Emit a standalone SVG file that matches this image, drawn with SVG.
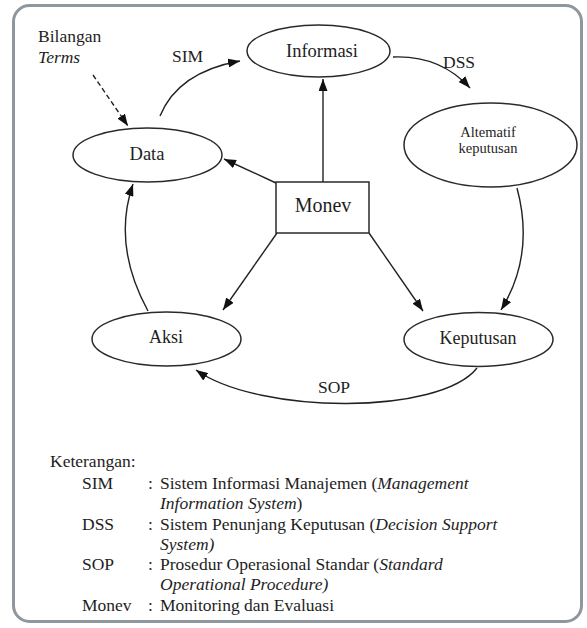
<svg xmlns="http://www.w3.org/2000/svg" width="587" height="628" viewBox="0 0 587 628">
<defs>
<marker id="ah" markerUnits="userSpaceOnUse" markerWidth="12" markerHeight="9" refX="12" refY="4.5" orient="auto">
<path d="M0,0 L12,4.5 L0,9 z" fill="#111"/>
</marker>
</defs>
<rect x="13.5" y="5.5" width="568" height="616" rx="16" fill="#fff" stroke="#8f979e" stroke-width="3"/>
<g id="connectors" fill="none" stroke="#222" stroke-width="1.4">
<path d="M323,182 L323,79" marker-end="url(#ah)"/>
<path d="M276,183 L224,159" marker-end="url(#ah)"/>
<path d="M277,233 L223,310" marker-end="url(#ah)"/>
<path d="M369,233 L423,311" marker-end="url(#ah)"/>
<path d="M160,116 Q178,72 240,61" marker-end="url(#ah)"/>
<path d="M393,57 Q440,55 470,88" marker-end="url(#ah)"/>
<path d="M517,188 Q535,255 501,310" marker-end="url(#ah)"/>
<path d="M477,368 C440,415 260,415 196,370" marker-end="url(#ah)"/>
<path d="M148,311 Q112,245 133,184" marker-end="url(#ah)"/>
<path d="M93,75 L128,126" stroke-dasharray="5,3" marker-end="url(#ah)"/>
</g>
<g id="connector-labels" fill="#1e1e1e" font-size="17.5">
<text font-family="'Liberation Serif'" x="172" y="62">SIM</text>
<text font-family="'Liberation Serif'" x="443" y="68">DSS</text>
<text font-family="'Liberation Serif'" x="318" y="393">SOP</text>
</g>
<g id="bilangan" fill="#1e1e1e" font-size="17.5">
<text font-family="'Liberation Serif'" x="38" y="42">Bilangan</text>
<text font-family="'Liberation Serif'" font-style="italic" x="38" y="63">Terms</text>
</g>
<g id="informasi">
<ellipse cx="318.5" cy="51" rx="71.5" ry="26" fill="#fff" stroke="#2a2a2a" stroke-width="1.5"/>
<text font-family="'Liberation Serif'" fill="#1e1e1e" x="322" y="57" font-size="18.5" text-anchor="middle">Informasi</text>
</g>
<g id="data">
<ellipse cx="147.5" cy="155" rx="74.5" ry="27" fill="#fff" stroke="#2a2a2a" stroke-width="1.5"/>
<text font-family="'Liberation Serif'" fill="#1e1e1e" x="147" y="160" font-size="18.5" text-anchor="middle">Data</text>
</g>
<g id="alternatif">
<ellipse cx="490.5" cy="145" rx="86.5" ry="42" fill="#fff" stroke="#2a2a2a" stroke-width="1.5"/>
<text font-family="'Liberation Serif'" fill="#1e1e1e" x="488" y="137" font-size="14.5" text-anchor="middle">Altematif</text>
<text font-family="'Liberation Serif'" fill="#1e1e1e" x="488" y="153" font-size="14.5" text-anchor="middle">keputusan</text>
</g>
<g id="monev">
<rect x="276" y="182" width="93" height="51" fill="#fff" stroke="#2a2a2a" stroke-width="1.5"/>
<text font-family="'Liberation Serif'" fill="#1e1e1e" x="323" y="212" font-size="20" text-anchor="middle">Monev</text>
</g>
<g id="aksi">
<ellipse cx="166.5" cy="339" rx="74.5" ry="27" fill="#fff" stroke="#2a2a2a" stroke-width="1.5"/>
<text font-family="'Liberation Serif'" fill="#1e1e1e" x="166" y="343" font-size="18" text-anchor="middle">Aksi</text>
</g>
<g id="keputusan">
<ellipse cx="478.5" cy="339.5" rx="74.5" ry="27" fill="#fff" stroke="#2a2a2a" stroke-width="1.5"/>
<text font-family="'Liberation Serif'" fill="#1e1e1e" x="478" y="344" font-size="18" text-anchor="middle">Keputusan</text>
</g>
<g id="legend" fill="#1e1e1e" font-size="17.5">
<text font-family="'Liberation Serif'" x="50" y="467">Keterangan:</text>
<text font-family="'Liberation Serif'" x="82" y="489">SIM</text>
<text font-family="'Liberation Serif'" x="148" y="489">: <tspan x="160">Sistem Informasi Manajemen (</tspan><tspan font-style="italic">Management</tspan></text>
<text font-family="'Liberation Serif'" x="160" y="509"><tspan font-style="italic">Information System</tspan>)</text>
<text font-family="'Liberation Serif'" x="82" y="530">DSS</text>
<text font-family="'Liberation Serif'" x="148" y="530">: <tspan x="160">Sistem Penunjang Keputusan (</tspan><tspan font-style="italic">Decision Support</tspan></text>
<text font-family="'Liberation Serif'" x="160" y="550" font-style="italic">System)</text>
<text font-family="'Liberation Serif'" x="82" y="570">SOP</text>
<text font-family="'Liberation Serif'" x="148" y="570">: <tspan x="160">Prosedur Operasional Standar (</tspan><tspan font-style="italic">Standard</tspan></text>
<text font-family="'Liberation Serif'" x="160" y="590" font-style="italic">Operational Procedure)</text>
<text font-family="'Liberation Serif'" x="82" y="611">Monev</text>
<text font-family="'Liberation Serif'" x="148" y="611">: <tspan x="160">Monitoring dan Evaluasi</tspan></text>
</g>
</svg>
